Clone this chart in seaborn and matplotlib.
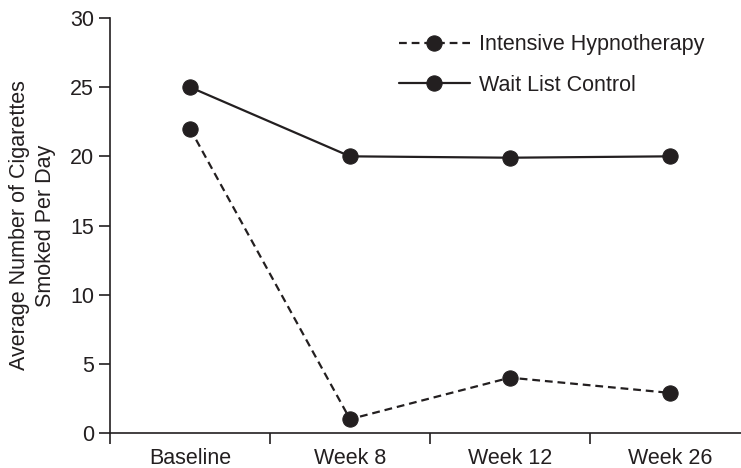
import matplotlib
matplotlib.use('Agg')
import matplotlib.pyplot as plt
import seaborn as sns
import pandas as pd

# dados
timepoints = ['Baseline', 'Week 8', 'Week 12', 'Week 26']
hypnotherapy = [22, 1, 4, 2.9]
wait_list = [25, 20, 19.9, 20]
groups = ['Intensive Hypnotherapy', 'Wait List Control']

df = pd.DataFrame({
    'pos': list(range(len(timepoints))) * 2,
    'value': hypnotherapy + wait_list,
    'group': [groups[0]] * len(timepoints) + [groups[1]] * len(timepoints),
})

sns.set_theme(style='ticks')
plt.rcParams['font.family'] = ['Liberation Sans', 'DejaVu Sans']
ink = '#231f20'
fs = 15.5

fig = plt.figure(figsize=(7.41, 4.68), dpi=100)
ax = fig.add_axes([110 / 741, 35 / 468, 640 / 741, 415 / 468])

sns.lineplot(
    data=df, x='pos', y='value', style='group', style_order=groups,
    dashes={groups[0]: (3.5, 2.2), groups[1]: ''},
    markers={groups[0]: 'o', groups[1]: 'o'},
    color=ink, linewidth=1.6, markersize=11, markeredgecolor=ink,
    ax=ax, legend=True,
)

ax.set_xlim(-0.5, 3.5)
ax.set_ylim(0, 30)
ax.set_yticks([0, 5, 10, 15, 20, 25, 30])

# ticks nas divisões, rótulos no centro das categorias
ax.set_xticks([-0.5, 0.5, 1.5, 2.5, 3.5])
ax.set_xticklabels([])
ax.set_xticks(range(len(timepoints)), minor=True)
ax.set_xticklabels(timepoints, minor=True)
ax.tick_params(axis='x', which='minor', length=0, pad=11, labelsize=fs, labelcolor=ink)
ax.tick_params(axis='both', which='major', length=8, width=1.2, color=ink,
               labelsize=fs, labelcolor=ink)

sns.despine(ax=ax)
for s in ['left', 'bottom']:
    ax.spines[s].set_color(ink)
    ax.spines[s].set_linewidth(1.2)

ax.set_xlabel('')
ax.set_ylabel('Average Number of Cigarettes\nSmoked Per Day', fontsize=fs,
              color=ink, labelpad=10, linespacing=1.3)

handles, labels = ax.get_legend_handles_labels()
ax.legend(handles, labels, frameon=False, fontsize=fs, loc='center left',
          bbox_to_anchor=(388 / 741, 1 - 65 / 468), bbox_transform=fig.transFigure,
          handlelength=3.3, handletextpad=0.45, labelspacing=0.9, borderpad=0,
          labelcolor=ink)

plt.savefig('out.png', dpi=100)
plt.close()
